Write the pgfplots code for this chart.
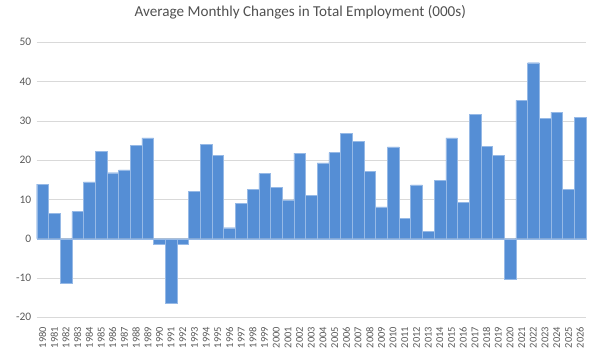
\documentclass[border=0pt]{standalone}
\usepackage{pgfplots}
\pgfplotsset{compat=1.18}
\usepackage{fontspec}
\setmainfont{Carlito}
\definecolor{barblue}{RGB}{85,142,213}
\definecolor{baredge}{RGB}{150,185,230}
\definecolor{txt}{RGB}{89,89,89}
\definecolor{gridgray}{RGB}{217,217,217}
\begin{document}
\begin{tikzpicture}
\begin{axis}[
  name=ax,
  scale only axis,
  width=549.3bp, height=275bp,
  xmin=1979.5, xmax=2026.5,
  ymin=-20, ymax=50,
  ytick={-20,-10,0,10,20,30,40,50},
  xtick={1980,...,2026},
  ymajorgrids, xmajorgrids=false,
  major grid style={draw=gridgray, line width=0.6pt},
  axis line style={draw=none},
  major tick style={draw=none},
  /pgf/number format/assume math mode=true,
  /pgf/number format/1000 sep={},
  xticklabel style={rotate=90, anchor=east, font=\fontsize{10.5}{12}\selectfont, text=txt, xshift=-6bp},
  yticklabel style={font=\fontsize{11.5}{12}\selectfont, text=txt, xshift=-2bp},
  title={Average Monthly Changes in Total Employment (000s)},
  title style={at={(0.5,1)}, anchor=center, yshift=24bp, xshift=-11bp, font=\fontsize{15.2}{17}\selectfont, text=txt!90!black},
  clip=false,
]
\addplot[ybar, bar width=1, bar shift=0, fill=barblue, draw=baredge, line width=0.4pt] coordinates {
(1980,13.9) (1981,6.5) (1982,-11.3) (1983,6.9) (1984,14.5) (1985,22.3) (1986,16.8) (1987,17.5) (1988,23.8) (1989,25.7)
(1990,-1.5) (1991,-16.4) (1992,-1.5) (1993,12.1) (1994,24.1) (1995,21.2) (1996,2.8) (1997,9.0) (1998,12.6) (1999,16.6)
(2000,13.1) (2001,9.9) (2002,21.8) (2003,11.0) (2004,19.3) (2005,21.9) (2006,26.9) (2007,24.8) (2008,17.2) (2009,8.1)
(2010,23.4) (2011,5.2) (2012,13.7) (2013,1.9) (2014,14.9) (2015,25.7) (2016,9.2) (2017,31.7) (2018,23.5) (2019,21.2)
(2020,-10.4) (2021,35.2) (2022,44.8) (2023,30.7) (2024,32.2) (2025,12.6) (2026,30.9)
};
\end{axis}
\pgfresetboundingbox
\path[use as bounding box] ([shift={(-36.7bp,-43.7bp)}]ax.south west) rectangle ([shift={(14bp,42.3bp)}]ax.north east);
\end{tikzpicture}
\end{document}
